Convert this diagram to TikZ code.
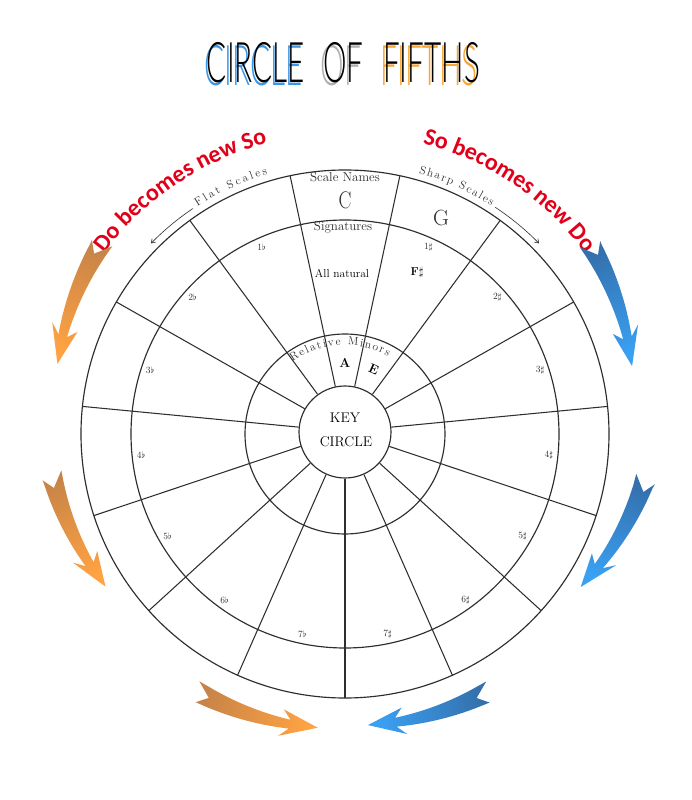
\documentclass[tikz,border=0pt]{standalone}
\usepackage{fontspec}
\usepackage{graphicx}
\usetikzlibrary{decorations.text,arrows.meta}
\newfontfamily\redfont{Carlito}
\IfFontExistsTF{Lato Light}{\newfontfamily\titlefont{Lato Light}}{\newfontfamily\titlefont{Lato}}
\definecolor{ink}{HTML}{2E2E2E}
\definecolor{redtxt}{RGB}{225,0,25}
\definecolor{otail}{RGB}{200,132,72}
\definecolor{ohead}{RGB}{255,162,66}
\definecolor{btail}{RGB}{52,112,172}
\definecolor{bhead}{RGB}{58,160,242}
\definecolor{shblue}{RGB}{60,150,230}
\definecolor{shgray}{RGB}{175,175,175}
\definecolor{shorange}{RGB}{250,165,50}
\newcommand\ttl[1]{\scalebox{0.53}[1]{\fontsize{56}{58}\selectfont\titlefont #1}}
% #1 tail angle, #2 direction, #3 tail colour, #4 head colour, #5 shading angle, #6 tail radius, #7 tip radius
\newcommand\bigarrow[7]{%
  \shade[top color=#3, bottom color=#4, shading angle=#5]
    ({#1+#2*0.7}:{#6+10})
    -- plot[smooth, variable=\q, domain=1.5:19, samples=10]
       ({#1+#2*\q}:{#6+(#7-#6)*\q/24.5+10.2-0.3*\q})
    -- ({#1+#2*17.3}:{#6+(#7-#6)*17.3/24.5+13.5})
    -- ({#1+#2*24.5}:{#7})
    -- ({#1+#2*17.3}:{#6+(#7-#6)*17.3/24.5-13.5})
    -- plot[smooth, variable=\q, domain=1.5:19, samples=10]
       ({#1+#2*(20.5-\q)}:{#6+(#7-#6)*(20.5-\q)/24.5-10.2+0.3*(20.5-\q)})
    -- ({#1-#2*0.7}:{#6-10})
    -- ({#1+#2*2.5}:{#6})
    -- cycle;}
\begin{document}
\begin{tikzpicture}[x=1pt,y=1pt,
  ring/.style={draw=ink, line width=1.15pt},
  spoke/.style={draw=ink, line width=1.05pt},
  lab/.style={text=ink, font=\fontsize{9.5}{9.5}\selectfont, inner sep=0pt},
  hdr/.style={text=ink, inner sep=0pt},
  thinarrow/.style={draw=ink, line width=0.6pt, -{Straight Barb[length=3.5pt,width=5pt]}}]
\useasboundingbox (-345,-366) rectangle (346,434);
\fill[white] (-345,-366) rectangle (346,434);

% title
\node[anchor=base, text=shblue, inner sep=0pt] (t1s) at (-91.5,348.5) {\ttl{CIRCLE}};
\node[anchor=base, inner sep=0pt] (t1) at (-89,351) {\ttl{CIRCLE}};
\node[anchor=base, text=shgray, inner sep=0pt] (t2s) at (-4,348.5) {\ttl{OF}};
\node[anchor=base, inner sep=0pt] (t2) at (-1.5,351) {\ttl{OF}};
\node[anchor=base, text=shorange, inner sep=0pt] (t3s) at (84,348.5) {\ttl{FIFTHS}};
\node[anchor=base, inner sep=0pt] (t3) at (86.5,351) {\ttl{FIFTHS}};

% rings
\draw[ring] (0,0) circle[radius=264];
\draw[ring] (0,0) circle[radius=214];
\draw[ring] (0,0) circle[radius=100];
\node[draw=ink, line width=1.15pt, circle, minimum size=92pt, inner sep=0pt] (key) at (0,2) {};
\foreach \a in {6,30,...,342} \draw[spoke] (key.\a) -- (\a:264);

% centre text
\node[hdr, text=black, font=\fontsize{14}{14}\selectfont\addfontfeature{LetterSpace=4}] (keyt) at (0,16) {KEY};
\node[hdr, text=black, font=\fontsize{14}{14}\selectfont\addfontfeature{LetterSpace=2}] (circt) at (1,-8) {CIRCLE};

% top segment texts
\node[hdr, font=\fontsize{13}{13}\selectfont\addfontfeature{LetterSpace=3}] (scn) at (0,257) {Scale Names};
\node[hdr] (cname) at (0,234) {\scalebox{0.8}[1]{\fontsize{24}{24}\selectfont C}};
\node[hdr, font=\fontsize{22}{22}\selectfont] (gname) at (66:236) {G};
\node[hdr, font=\fontsize{13}{13}\selectfont\addfontfeature{LetterSpace=4}] (sig) at (-2,207) {Signatures};
\node[hdr, text=black, font=\fontsize{11.5}{11.5}\selectfont] (alln) at (-3,161) {All natural};
\node[hdr, text=black, font=\fontsize{11.5}{11.5}\selectfont\bfseries] (fsh) at (66:177) {F$\sharp$};
\node[hdr, text=black, font=\fontsize{13}{13}\selectfont\bfseries] (amin) at (0,71) {A};
\node[hdr, text=black, font=\fontsize{13}{13}\selectfont\bfseries, rotate=-24] (emin) at (66:71) {E};

% signature labels
\foreach \a/\t [count=\i] in {114/1$\flat$,138/2$\flat$,162/3$\flat$,186/4$\flat$,210/5$\flat$,234/6$\flat$,258/7$\flat$,
   282/7$\sharp$,306/6$\sharp$,330/5$\sharp$,354/4$\sharp$,18/3$\sharp$,42/2$\sharp$,66/1$\sharp$}
  \node[lab] (sg\i) at (\a:205) {\t};

% curved texts
\path[decorate, decoration={text along path, text color=ink,
   text={|\fontsize{11.5}{11.5}\selectfont|Relative Minors}, text align={fit to path}}]
   (126:89) arc[start angle=126, end angle=61, radius=89];
\path[decorate, decoration={text along path, text color=ink,
   text={|\fontsize{11.5}{11.5}\selectfont|Flat Scales}, text align={fit to path}}]
   (123:271) arc[start angle=123, end angle=106.6, radius=271];
\path[decorate, decoration={text along path, text color=ink,
   text={|\fontsize{11.5}{11.5}\selectfont|Sharp Scales}, text align={fit to path}}]
   (74.2:271) arc[start angle=74.2, end angle=57.3, radius=271];
\draw[thinarrow] (124:272) arc[start angle=124, end angle=135.5, radius=272];
\draw[thinarrow] (56.5:272) arc[start angle=56.5, end angle=44.5, radius=272];

\path[decorate, decoration={text along path, text color=redtxt,
   text={|\redfont\bfseries\fontsize{24}{24}\selectfont|Do becomes new So}, text align=center}]
   (154:301) arc[start angle=154, end angle=94, radius=301];
\path[decorate, decoration={text along path, text color=redtxt,
   text={|\redfont\bfseries\fontsize{24}{24}\selectfont|So becomes new Do}, text align=center}]
   (86:301) arc[start angle=86, end angle=26, radius=301];

% big curved arrows
\bigarrow{141.8}{1}{otail}{ohead}{-22}{309}{296}
\bigarrow{188}{1}{otail}{ohead}{20}{296}{284}
\bigarrow{240.2}{1}{otail}{ohead}{72}{297}{295}
\bigarrow{37.8}{(-1)}{btail}{bhead}{22}{310}{295}
\bigarrow{351.5}{(-1)}{btail}{bhead}{339}{304}{281}
\bigarrow{299}{(-1)}{btail}{bhead}{287}{295}{292}
\end{tikzpicture}
\end{document}
